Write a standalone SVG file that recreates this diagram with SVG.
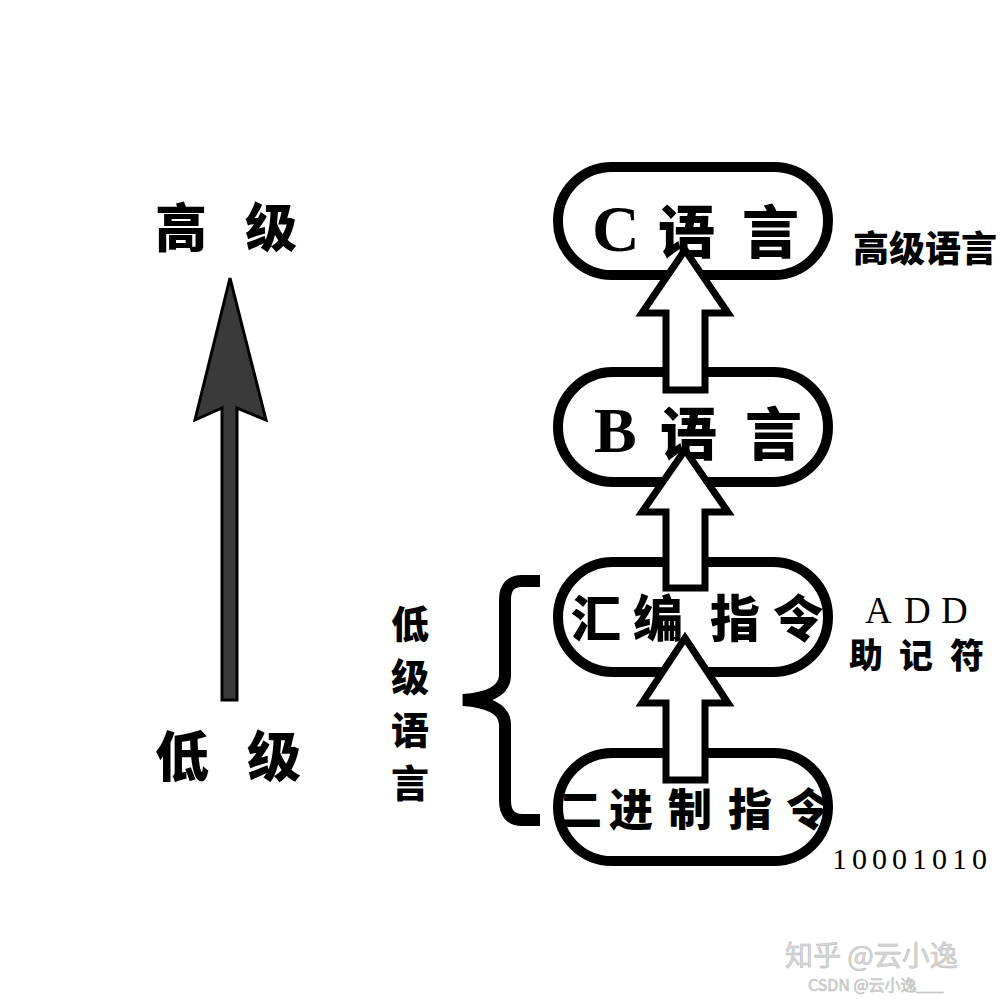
<svg xmlns="http://www.w3.org/2000/svg" width="1000" height="1000" viewBox="0 0 1000 1000">
<style>
.node{fill:#fff;stroke:#000;stroke-width:10}
.blk{fill:#fff;stroke:#000;stroke-width:7;stroke-linejoin:miter}
.cjk{font-family:"Noto Sans CJK SC","Noto Sans CJK JP",sans-serif;font-weight:900;fill:#000}
.ser{font-family:"Liberation Serif",serif;fill:#000}
.wm{font-family:"Noto Sans CJK SC","Liberation Sans",sans-serif;fill:#d8d8d8;stroke:#bdbdbd;stroke-width:0.6}
</style>
<rect width="1000" height="1000" fill="#fff"/>
<g id="level-axis">
<text class="cjk" x="155 245" y="247" font-size="52">高级</text>
<polygon points="230,278 266,420 237,408 237,700 222,700 222,408 195,420" fill="#3a3a3a" stroke="#000" stroke-width="3" stroke-linejoin="miter"/>
<text class="cjk" x="155 247" y="777" font-size="54">低级</text>
</g>
<g id="node-c">
<rect class="node" x="558" y="167" width="270" height="108" rx="54"/>
<text class="ser" x="592" y="251" font-size="66" font-weight="bold">C</text>
<text class="cjk" x="658 742" y="253" font-size="57">语言</text>
</g>
<g id="node-b">
<rect class="node" x="558" y="372" width="270" height="110" rx="55"/>
<text class="ser" x="594" y="452" font-size="64" font-weight="bold">B</text>
<text class="cjk" x="660 745" y="455" font-size="57">语言</text>
</g>
<g id="node-asm">
<rect class="node" x="558" y="562" width="270" height="110" rx="55"/>
<text class="cjk" x="571 633 710 773" y="637" font-size="50">汇编指令</text>
</g>
<g id="node-bin">
<rect class="node" x="558" y="753" width="270" height="108" rx="54"/>
<text class="cjk" x="558 609 668 728 786" y="826" font-size="44">二进制指令</text>
</g>
<g id="connectors">
<polygon class="blk" points="685,250 728,313 705,313 705,390 666,390 666,313 642,313"/>
<polygon class="blk" points="685,450 728,512 705,512 705,588 666,588 666,512 642,512"/>
<polygon class="blk" points="685,638 728,703 705,703 705,780 666,780 666,703 642,703"/>
</g>
<g id="brace">
<path d="M540,581 L522,581 Q505,581 505,600 L505,675 Q505,697 463,700 Q505,703 505,725 L505,800 Q505,820 522,820 L540,820" fill="none" stroke="#000" stroke-width="12"/>
<text class="cjk" x="391" y="638" font-size="38">低</text>
<text class="cjk" x="391" y="691" font-size="38">级</text>
<text class="cjk" x="391" y="744" font-size="38">语</text>
<text class="cjk" x="391" y="797" font-size="38">言</text>
</g>
<g id="labels">
<text class="cjk" x="853" y="262" font-size="36">高级语言</text>
<text class="ser" x="865 904 941" y="623" font-size="37">ADD</text>
<text class="cjk" x="849 899 950" y="668" font-size="34">助记符</text>
<text class="ser" x="832" y="869" font-size="30" letter-spacing="5">10001010</text>
</g>
<g id="watermark">
<text class="wm" x="785" y="966" font-size="28">知乎 @云小逸</text>
<text class="wm" x="808" y="991" font-size="16" stroke-width="0.3">CSDN @云小逸___</text>
</g>
</svg>
